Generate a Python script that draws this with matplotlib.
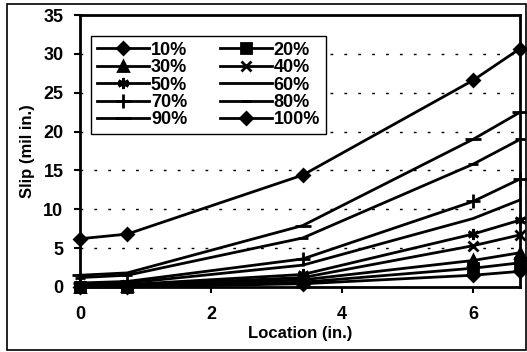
import matplotlib
matplotlib.use("Agg")
import matplotlib.pyplot as plt
from matplotlib.patches import Rectangle

location = [0, 0.72, 3.4, 6.0, 6.72]
labels = ["10%", "20%", "30%", "40%", "50%", "60%", "70%", "80%", "90%", "100%"]
slip = {
    "10%": [0.0, 0.0, 0.4, 1.5, 2.0],
    "20%": [0.0, 0.0, 0.6, 2.4, 3.1],
    "30%": [0.0, 0.1, 0.9, 3.4, 4.4],
    "40%": [0.1, 0.2, 1.2, 5.3, 6.7],
    "50%": [0.2, 0.3, 1.6, 6.8, 8.6],
    "60%": [0.3, 0.5, 2.8, 8.8, 11.2],
    "70%": [0.5, 0.7, 3.6, 11.0, 13.9],
    "80%": [1.2, 1.5, 6.3, 15.8, 19.0],
    "90%": [1.5, 1.8, 7.9, 19.0, 22.5],
    "100%": [6.2, 6.8, 14.4, 26.6, 30.7],
}
markers = ["D", "s", "^", "x", (6, 2, 0), None, "+", "_", "_", "D"]
msizes = [6, 7, 7, 7, 8, 0, 10, 7, 11, 6]

plt.rcParams["font.family"] = ["Liberation Sans", "DejaVu Sans"]
plt.rcParams["font.weight"] = "bold"

fig = plt.figure(figsize=(5.27, 3.52), dpi=100)
fig.patches.append(Rectangle((0.013, 0.005), 0.985, 0.985, transform=fig.transFigure,
                             fill=False, lw=1.2, color="black"))
ax = fig.add_axes([0.152, 0.185, 0.835, 0.772])

handles = {}
for lab, m, ms in zip(labels, markers, msizes):
    handles[lab], = ax.plot(location, slip[lab], color="black", lw=2, marker=m, markersize=ms,
                            markeredgewidth=2, label=lab, clip_on=False)

ax.set_xlim(0, 6.72)
ax.set_ylim(0, 35)
ax.set_xticks([0, 2, 4, 6])
ax.set_yticks(range(0, 36, 5))
for y in range(5, 35, 5):
    ax.axhline(y, color="black", lw=1, ls=(0, (2, 8)))
for s in ax.spines.values():
    s.set_linewidth(2)
ax.tick_params(labelsize=13, width=1.5, length=4)
ax.tick_params(axis="x", pad=10)
ax.tick_params(axis="y", pad=8)
ax.set_xlabel("Location (in.)", fontsize=12, fontweight="bold", labelpad=2)
ax.set_ylabel("Slip (mil in.)", fontsize=12, fontweight="bold", labelpad=6)

# row-major legend order: 10% 20% / 30% 40% / ...
order = ["10%", "30%", "50%", "70%", "90%", "20%", "40%", "60%", "80%", "100%"]
leg = ax.legend([handles[k] for k in order], order, loc="upper left",
                bbox_to_anchor=(0.005, 0.955), ncol=2, fontsize=13,
                handlelength=2.9, handletextpad=0.1, columnspacing=1.8, labelspacing=0.02,
                borderpad=0.3, fancybox=False, framealpha=1, edgecolor="black")
leg.get_frame().set_linewidth(1)

fig.savefig("out.png", dpi=100)
